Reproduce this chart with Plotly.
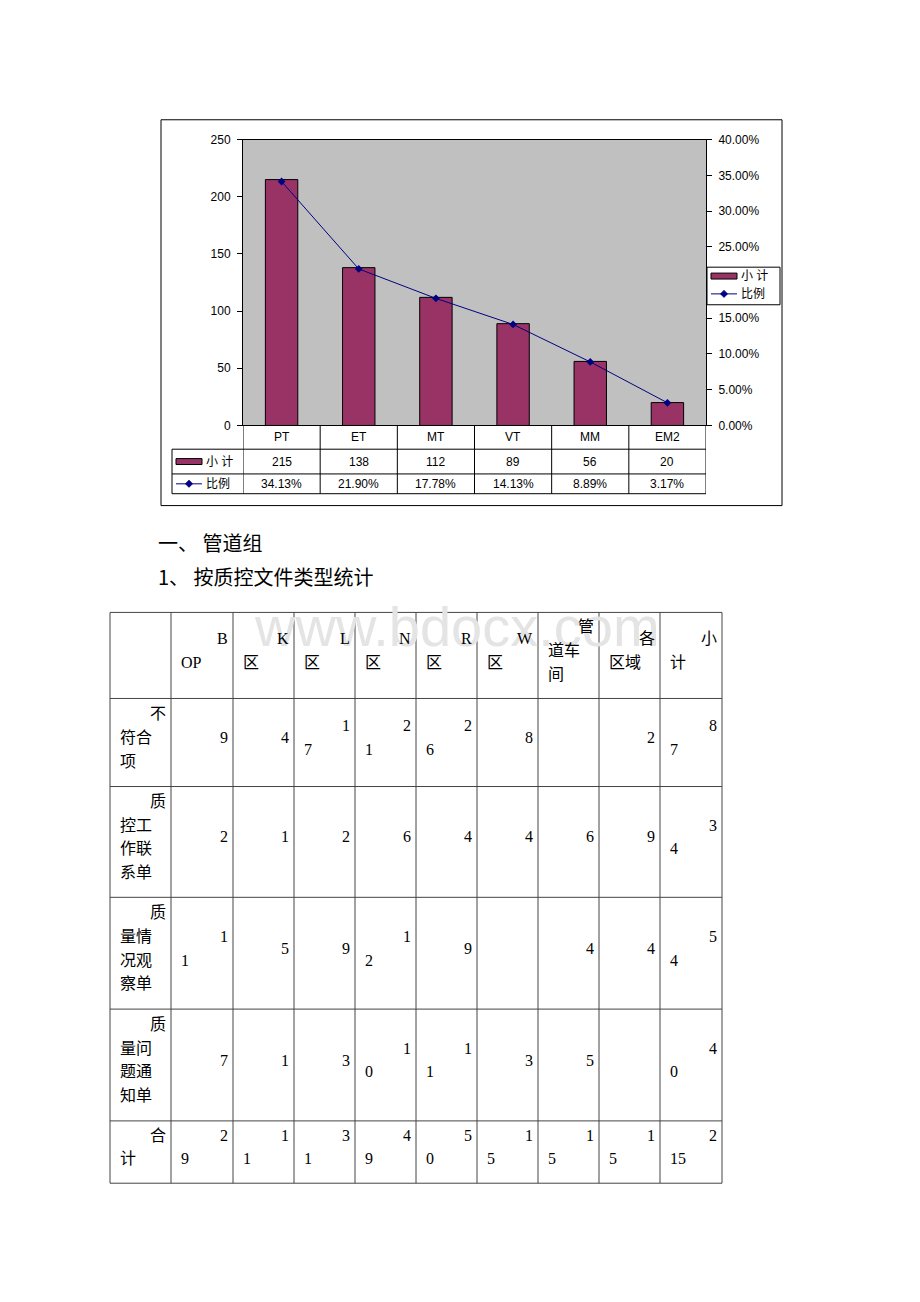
import plotly.graph_objects as go

# ---------------- data ----------------
categories = ["PT", "ET", "MT", "VT", "MM", "EM2"]
subtotals = [215, 138, 112, 89, 56, 20]
ratios = [34.13, 21.90, 17.78, 14.13, 8.89, 3.17]
series_bar_name = "小 计"
series_line_name = "比例"

heading1 = "一、 管道组"
heading2 = "1、 按质控文件类型统计"

table_cols = ["BOP", "K区", "L区", "N区", "R区", "W区", "管道车间", "各区域", "小计"]
table_rows = ["不符合项", "质控工作联系单", "质量情况观察单", "质量问题通知单", "合计"]
row_noncon = [9, 4, 17, 21, 26, 8, None, 2, 87]
row_contact = [2, 1, 2, 6, 4, 4, 6, 9, 34]
row_observe = [11, 5, 9, 12, 9, None, 4, 4, 54]
row_notice = [7, 1, 3, 10, 11, 3, 5, None, 40]
row_total = [29, 11, 31, 49, 50, 15, 15, 15, 215]
table_values = [row_noncon, row_contact, row_observe, row_notice, row_total]

watermark = "www.bdocx.com"

# ---------------- layout helpers ----------------
W, H = 920, 1302
def X(px): return px / W
def Y(py): return 1 - py / H

SANS = "Liberation Sans, Arial, Noto Sans CJK SC"
SERIF = "Liberation Serif, Noto Sans CJK SC"
BAR_COLOR = "#993366"
LINE_COLOR = "#000080"

fig = go.Figure()
fig.add_bar(x=categories, y=subtotals, name=series_bar_name, width=0.42,
            marker=dict(color=BAR_COLOR, line=dict(color="black", width=1)),
            yaxis="y", showlegend=False)
fig.add_scatter(x=categories, y=ratios, name=series_line_name, yaxis="y2",
                mode="lines+markers", line=dict(color=LINE_COLOR, width=1),
                marker=dict(symbol="diamond", size=6, color=LINE_COLOR),
                showlegend=False)

shapes = []
ann = []

def text(x, y, s, xanchor="center", font=None, xref="paper"):
    ann.append(dict(x=x, y=y, xref=xref, yref="paper", text=s, showarrow=False,
                    xanchor=xanchor, yanchor="middle",
                    font=font or dict(family=SANS, size=12, color="black")))

# chart outer border
shapes.append(dict(type="rect", xref="paper", yref="paper", x0=X(161), x1=X(782),
                   y0=Y(114), y1=Y(504), line=dict(color="black", width=1)))

# data table under the chart
t_top, t_r1, t_r2, t_bot = 423, 447, 472, 492
t_left = 172
for yy in (t_r1, t_r2, t_bot):
    shapes.append(dict(type="line", xref="paper", yref="paper", x0=X(t_left), x1=X(706),
                       y0=Y(yy), y1=Y(yy), line=dict(color="black", width=1)))
shapes.append(dict(type="line", xref="paper", yref="paper", x0=X(t_left), x1=X(t_left),
                   y0=Y(t_r1), y1=Y(t_bot), line=dict(color="black", width=1)))
for i in range(len(categories) + 1):
    shapes.append(dict(type="line", xref="x", yref="paper", x0=i - 0.5, x1=i - 0.5,
                       y0=Y(t_top), y1=Y(t_bot), line=dict(color="black", width=1)))
for i, c in enumerate(categories):
    text(i, Y((t_top + t_r1) / 2), c, xref="x")
    text(i, Y((t_r1 + t_r2) / 2), str(subtotals[i]), xref="x")
    text(i, Y((t_r2 + t_bot) / 2), f"{ratios[i]:.2f}%", xref="x")

def legend_items(x0, yb, yl, tx):
    shapes.append(dict(type="rect", xref="paper", yref="paper", x0=X(x0), x1=X(x0 + 26),
                       y0=Y(yb + 3), y1=Y(yb - 3), fillcolor=BAR_COLOR,
                       line=dict(color="black", width=1)))
    text(X(tx), Y(yb), series_bar_name, xanchor="left")
    shapes.append(dict(type="line", xref="paper", yref="paper", x0=X(x0), x1=X(x0 + 26),
                       y0=Y(yl), y1=Y(yl), line=dict(color=LINE_COLOR, width=1)))
    cx = x0 + 13
    path = (f"M {X(cx)} {Y(yl - 3.5)} L {X(cx + 3.5)} {Y(yl)} L {X(cx)} {Y(yl + 3.5)} "
            f"L {X(cx - 3.5)} {Y(yl)} Z")
    shapes.append(dict(type="path", xref="paper", yref="paper", path=path,
                       fillcolor=LINE_COLOR, line=dict(color=LINE_COLOR, width=1)))
    text(X(tx), Y(yl), series_line_name, xanchor="left")

legend_items(176, (t_r1 + t_r2) / 2, (t_r2 + t_bot) / 2, 204)

# legend box
shapes.append(dict(type="rect", xref="paper", yref="paper", x0=X(707), x1=X(780),
                   y0=Y(263), y1=Y(301), fillcolor="white", line=dict(color="black", width=1)))
legend_items(711, 272, 290, 739)

# headings
HFONT = dict(family="Noto Sans CJK SC", size=20, color="black")
text(X(156), Y(541), heading1, xanchor="left", font=HFONT)
text(X(156), Y(576), heading2, xanchor="left", font=HFONT)

# watermark
text(X(457), Y(626), watermark,
     font=dict(family="Liberation Sans, Arial", size=56, color="#e4e4e4"))

# big table
col_x = [110, 171, 233, 294, 355, 416, 477, 538, 599, 660, 722]
row_y = [612, 699, 788, 900, 1013, 1126, 1189]
TC = "#444444"
for xx in col_x:
    shapes.append(dict(type="line", xref="paper", yref="paper", x0=X(xx), x1=X(xx),
                       y0=Y(row_y[0]), y1=Y(row_y[-1]), line=dict(color=TC, width=1)))
for yy in row_y:
    shapes.append(dict(type="line", xref="paper", yref="paper", x0=X(col_x[0]), x1=X(col_x[-1]),
                       y0=Y(yy), y1=Y(yy), line=dict(color=TC, width=1)))

def split_lines(s):
    s = str(s)
    lines = [s[0]]
    rest = s[1:]
    for i in range(0, len(rest), 2):
        lines.append(rest[i:i + 2])
    return lines

TFONT = dict(family=SERIF, size=16, color="black")

def put_cell(s, ci, ri):
    if s is None or s == "":
        return
    lines = split_lines(s)
    left, right = col_x[ci], col_x[ci + 1]
    top, bot = row_y[ri], row_y[ri + 1]
    yc = (top + bot) / 2 - 5
    n = len(lines)
    sp = 24
    for k, ln in enumerate(lines):
        yy = yc + (k - (n - 1) / 2) * sp
        if k == 0:
            text(X(right - 3), Y(yy), ln, xanchor="right", font=TFONT)
        else:
            text(X(left + 8), Y(yy), ln, xanchor="left", font=TFONT)

for j, c in enumerate(table_cols):
    put_cell(c, j + 1, 0)
for i, rname in enumerate(table_rows):
    put_cell(rname, 0, i + 1)
    for j, v in enumerate(table_values[i]):
        put_cell(None if v is None else str(v), j + 1, i + 1)

fig.update_layout(
    width=W, height=H, margin=dict(l=0, r=0, t=0, b=0),
    paper_bgcolor="white", plot_bgcolor="#C0C0C0",
    showlegend=False,
    shapes=shapes, annotations=ann,
    xaxis=dict(domain=[X(243), X(706)], range=[-0.5, 5.5], type="category",
               showticklabels=False, ticks="", showline=True, linecolor="black",
               linewidth=1, mirror=True, showgrid=False, zeroline=False),
    yaxis=dict(domain=[Y(423), Y(134)], range=[0, 250], dtick=50, ticks="outside",
               ticklen=5, tickcolor="black", showline=True, linecolor="black",
               linewidth=1, showgrid=False, zeroline=False,
               tickfont=dict(family=SANS, size=12, color="black"), ticklabelstandoff=4),
    yaxis2=dict(overlaying="y", side="right", anchor="x", range=[0, 40], dtick=5,
                tickformat=".2f", ticksuffix="%", ticks="outside", ticklen=5,
                tickcolor="black", showline=True, linecolor="black", linewidth=1,
                showgrid=False, zeroline=False,
                tickfont=dict(family=SANS, size=12, color="black"), ticklabelstandoff=4),
)

fig.write_html("out.html")
